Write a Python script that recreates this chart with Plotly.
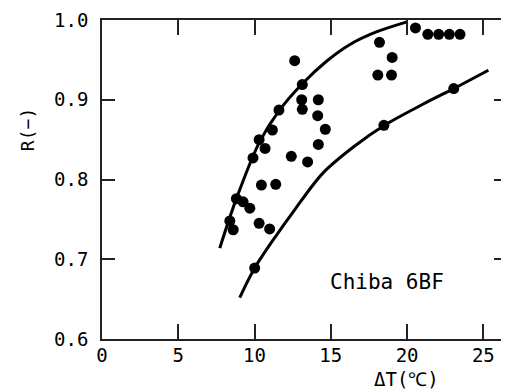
import plotly.graph_objects as go

# measured points
pts_x = [8.38, 8.60, 8.81, 9.25, 9.69, 9.90, 10.30, 10.69, 10.45, 10.30, 10.99, 11.17,
         11.39, 11.60, 12.41, 12.63, 13.13, 13.09, 13.13, 13.48, 14.18, 14.14, 14.64,
         14.18, 18.19, 19.02, 18.08, 18.98, 20.55, 21.36, 22.07, 22.77, 23.47,
         10.01, 18.48, 23.06]
pts_y = [0.748, 0.737, 0.776, 0.772, 0.764, 0.827, 0.850, 0.839, 0.793, 0.745, 0.738, 0.862,
         0.794, 0.887, 0.829, 0.949, 0.919, 0.900, 0.888, 0.822, 0.900, 0.880, 0.863,
         0.844, 0.972, 0.953, 0.931, 0.931, 0.990, 0.982, 0.982, 0.982, 0.982,
         0.689, 0.868, 0.914]

# upper curve
upper_x = [7.72, 8.81, 10.30, 11.60, 13.18, 14.70, 16.23, 17.98, 20.05]
upper_y = [0.714, 0.776, 0.846, 0.886, 0.921, 0.948, 0.969, 0.985, 0.998]

# lower curve
lower_x = [9.03, 10.01, 11.43, 12.63, 14.48, 16.50, 18.52, 21.00, 23.06, 25.33]
lower_y = [0.652, 0.689, 0.730, 0.762, 0.808, 0.841, 0.868, 0.894, 0.914, 0.937]

x_ticks = [0, 5, 10, 15, 20, 25]
y_ticks = [0.6, 0.7, 0.8, 0.9, 1.0]
y_ticktext = ["0.6", "0.7", "0.8", "0.9", "1.0"]

mono = "DejaVu Sans Mono"

fig = go.Figure()
fig.add_trace(go.Scatter(x=upper_x, y=upper_y, mode="lines",
                         line=dict(color="black", width=3, shape="spline", smoothing=0.9),
                         showlegend=False, hoverinfo="skip"))
fig.add_trace(go.Scatter(x=lower_x, y=lower_y, mode="lines",
                         line=dict(color="black", width=3, shape="spline", smoothing=0.9),
                         showlegend=False, hoverinfo="skip"))
fig.add_trace(go.Scatter(x=pts_x, y=pts_y, mode="markers",
                         marker=dict(color="black", size=11),
                         showlegend=False))

axis_common = dict(showgrid=False, zeroline=False, showline=True, linecolor="#222",
                   linewidth=1.5, mirror="allticks", ticks="inside", tickcolor="#222",
                   tickwidth=1.5, automargin=False,
                   tickfont=dict(family=mono, size=19, color="black"))

fig.update_xaxes(range=[0, 26.55], tickvals=x_ticks, ticklen=15, ticklabelstandoff=-2,
                 **axis_common)
fig.update_yaxes(range=[0.6, 1.0], tickvals=y_ticks, ticktext=y_ticktext, ticklen=13,
                 ticklabelstandoff=8, **axis_common)

fig.add_annotation(text="R(−)", xref="paper", yref="paper", x=-0.185, y=0.655,
                   textangle=-90, showarrow=False, xanchor="center", yanchor="middle",
                   font=dict(family=mono, size=18, color="black"))
fig.add_annotation(text="ΔT(℃)", xref="paper", yref="paper", x=0.751, y=-0.126,
                   showarrow=False, xanchor="center", yanchor="middle",
                   font=dict(family=mono, size=19, color="black"))
fig.add_annotation(text="Chiba 6BF", xref="paper", yref="paper", x=0.704, y=0.179,
                   showarrow=False, xanchor="center", yanchor="middle",
                   font=dict(family=mono, size=21, color="black"))

# page body has an 8px margin, so the figure is sized to fit the 509x390 window
fig.update_layout(width=501, height=382, margin=dict(l=94, r=2, t=12, b=51),
                  plot_bgcolor="white", paper_bgcolor="white")

fig.write_html("out.html")
